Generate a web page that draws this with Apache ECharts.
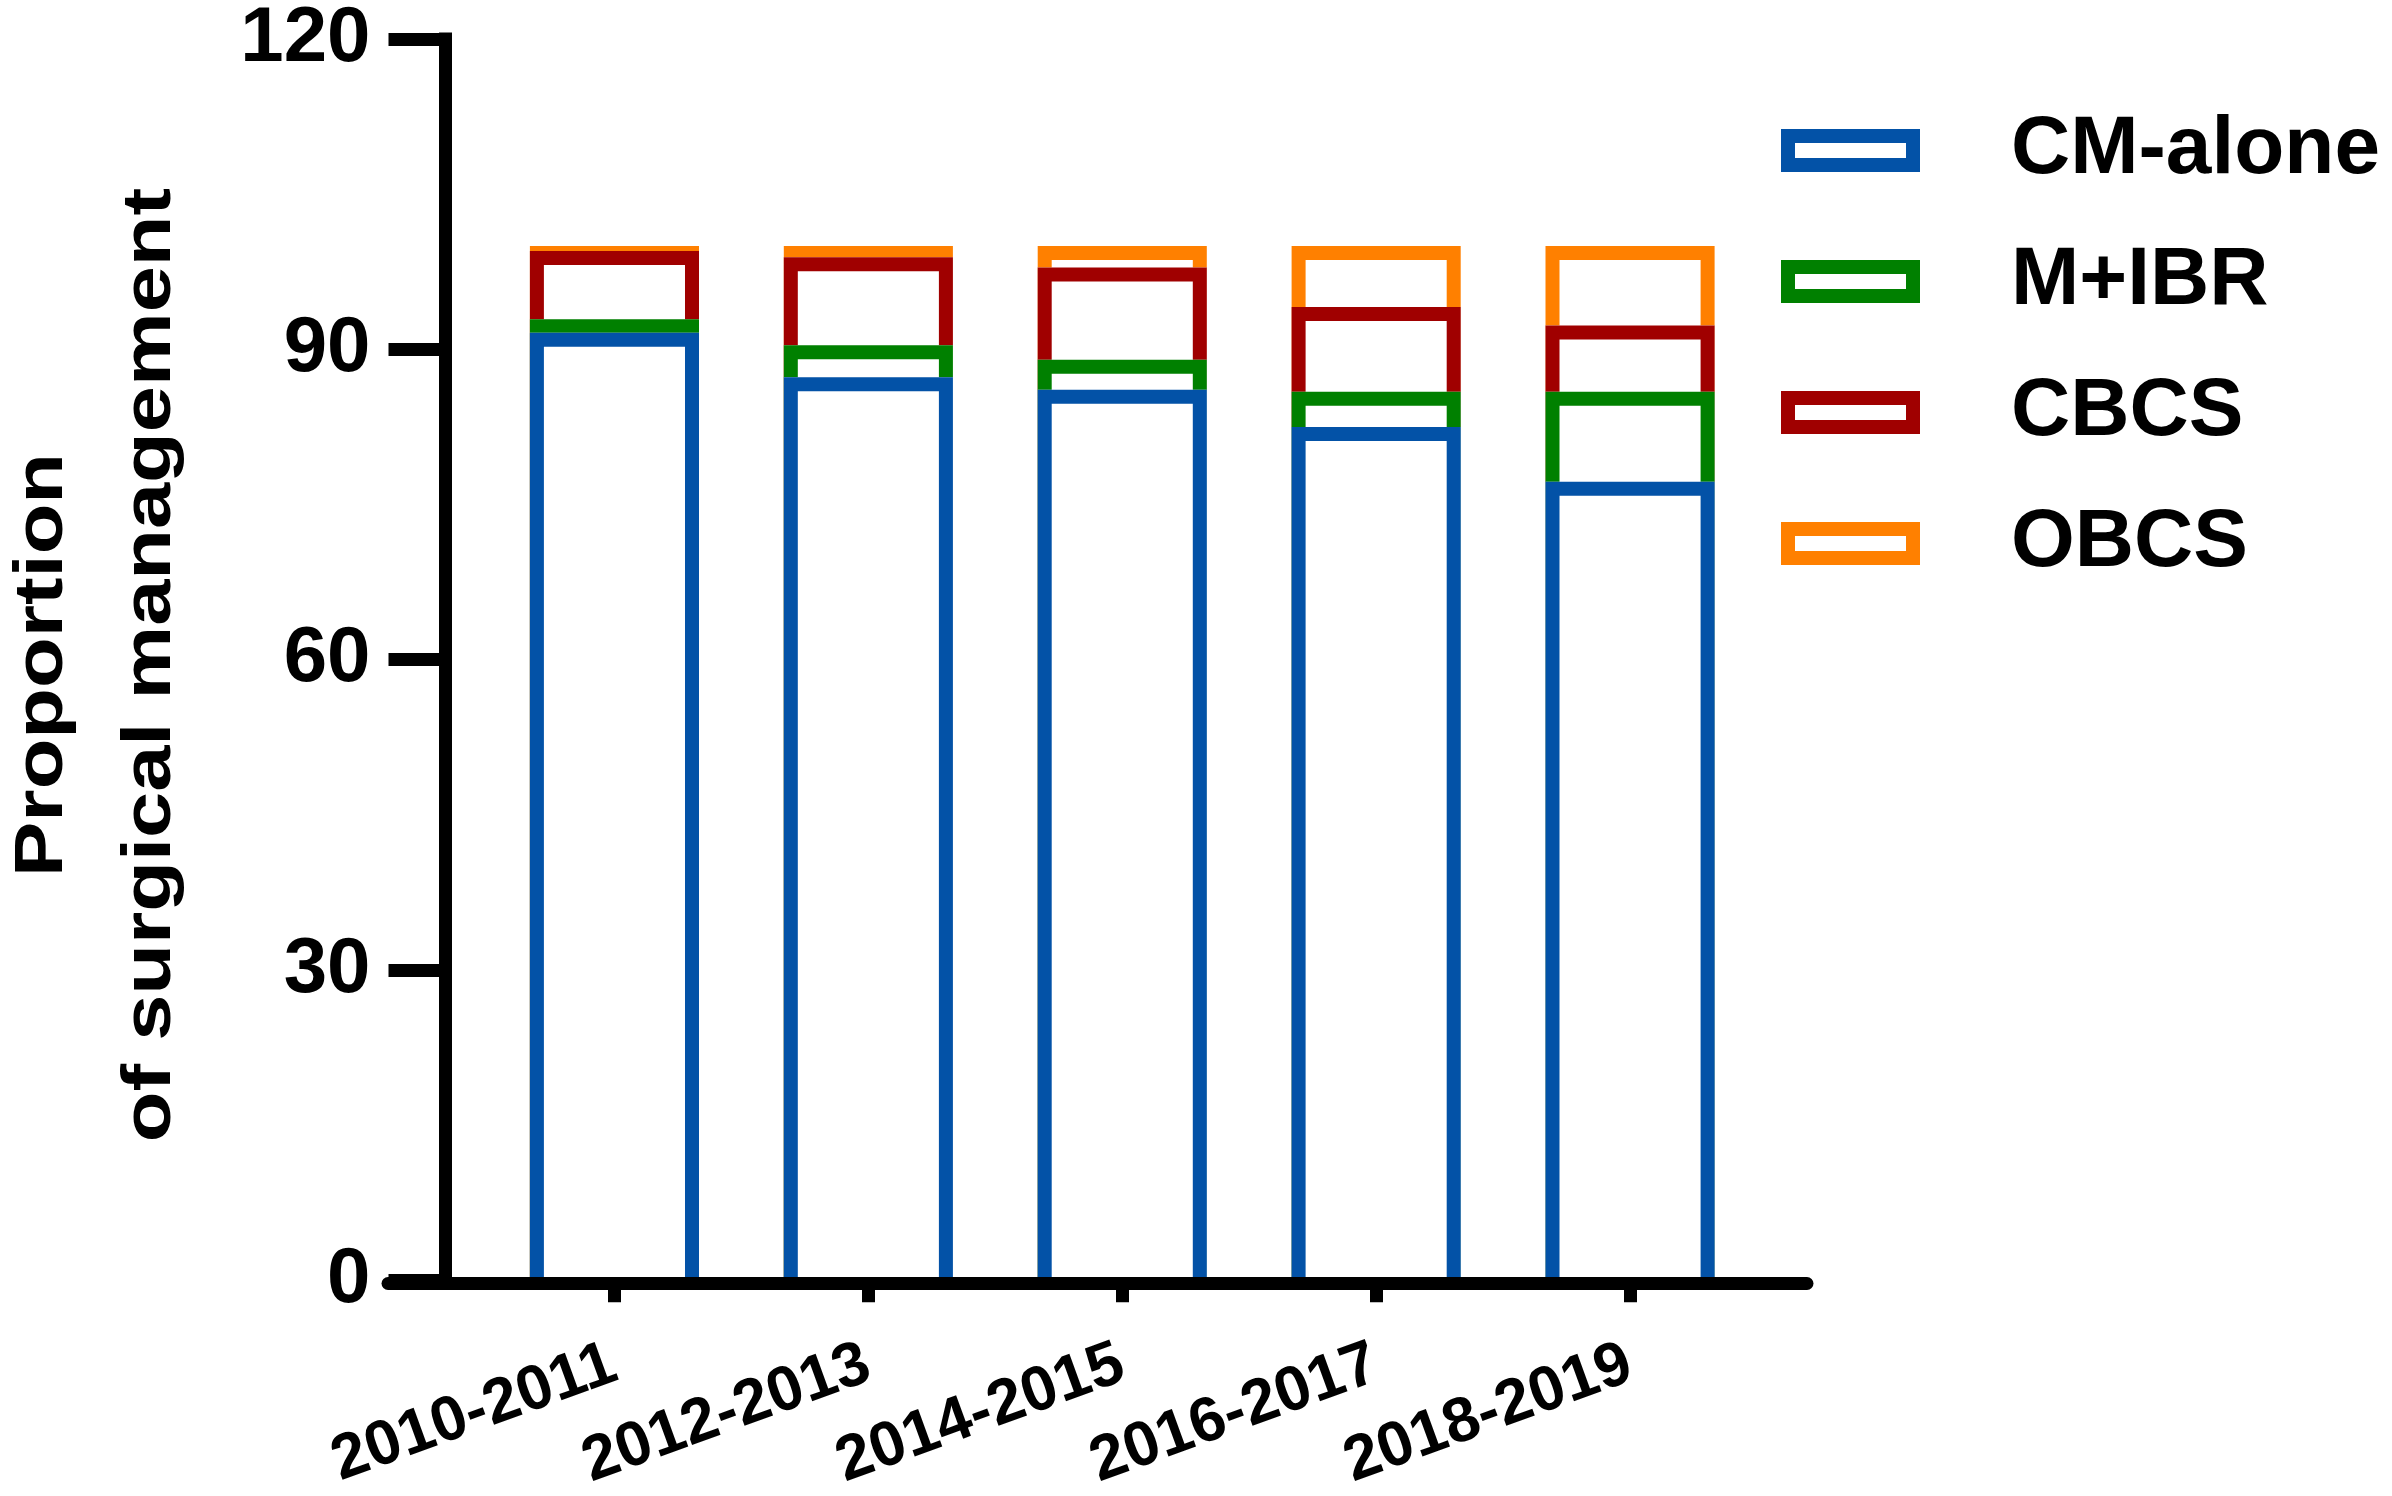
<!DOCTYPE html>
<html>
<head>
<meta charset="utf-8">
<script src="https://cdn.jsdelivr.net/npm/echarts@6/dist/echarts.min.js"></script>
<style>
html,body{margin:0;padding:0;background:#fff;}
#chart{width:2392px;height:1496px;}
</style>
</head>
<body>
<div id="chart"></div>
<script>
// ---- data (segment sizes, percent) ----
const categories = ['2010-2011', '2012-2013', '2014-2015', '2016-2017', '2018-2019'];
const seriesNames = ['CM-alone', 'M+IBR', 'CBCS', 'OBCS'];
const cmAlone = [91.6, 87.3, 86.1, 82.5, 77.2];
const mIbr    = [1.3, 3.1, 2.9, 3.4, 8.7];
const cbcs    = [6.6, 8.5, 8.9, 8.2, 6.4];
const obcs    = [0.5, 1.1, 2.1, 5.9, 7.7];
const yTicks  = [0, 30, 60, 90, 120];

// ---- style ----
const colors = ['#0352A7', '#008000', '#A00000', '#FF8000'];
const FONT = "'Liberation Sans', Arial, Helvetica, sans-serif";
const BORDER = 14;
const BAR_RATIO = 0.666;

const segments = [cmAlone, mIbr, cbcs, obcs];
// cumulative tops for each series
const cumulative = segments.map((_, s) =>
  categories.map((_, i) => {
    let t = 0;
    for (let k = 0; k <= s; k++) t += segments[k][i];
    return +t.toFixed(2);
  })
);

function makeRender(color) {
  return function (params, api) {
    const i = api.value(0), v = api.value(1);
    const top = api.coord([i, v]);
    const base = api.coord([i, 0]);
    const band = api.size([1, 0])[0];
    const w = band * BAR_RATIO;
    const lw = BORDER;
    const x0 = top[0] - w / 2, x1 = top[0] + w / 2;
    return {
      type: 'group',
      children: [
        { type: 'rect', shape: { x: x0, y: top[1], width: w, height: base[1] - top[1] }, style: { fill: '#fff' } },
        { type: 'polyline',
          shape: { points: [[x0 + lw / 2, base[1]], [x0 + lw / 2, top[1] + lw / 2], [x1 - lw / 2, top[1] + lw / 2], [x1 - lw / 2, base[1]]] },
          style: { fill: null, stroke: color, lineWidth: lw, lineJoin: 'miter' } }
      ]
    };
  };
}

// draw largest cumulative first so lower segments sit on top
const seriesList = [];
for (let s = seriesNames.length - 1; s >= 0; s--) {
  seriesList.push({
    name: seriesNames[s],
    type: 'custom',
    xAxisIndex: 0,
    yAxisIndex: 0,
    itemStyle: { color: '#fff', borderColor: colors[s], borderWidth: BORDER },
    renderItem: makeRender(colors[s]),
    encode: { x: 0, y: 1 },
    data: categories.map((c, i) => [i, cumulative[s][i]])
  });
}

const chart = echarts.init(document.getElementById('chart'), null, { renderer: 'canvas' });
chart.setOption({
  backgroundColor: '#fff',
  animation: false,
  textStyle: { fontFamily: FONT },
  grid: [
    { left: 487.5, right: 635, top: 37, bottom: 212 },
    { left: 388, right: 585, top: 37, bottom: 213 }
  ],
  xAxis: [
    {
      type: 'category', gridIndex: 0, data: categories, z: 5,
      axisLine: { show: false },
      axisTick: { show: true, alignWithLabel: true, length: 22, lineStyle: { color: '#000', width: 13 } },
      axisLabel: { rotate: 20, margin: 82, color: '#000', fontSize: 63, fontWeight: 'bold', fontFamily: FONT, interval: 0 },
      splitLine: { show: false }
    },
    {
      type: 'value', gridIndex: 1, min: 0, max: 1, z: 5,
      axisLine: { show: true, lineStyle: { color: '#000', width: 13 } },
      axisTick: { show: false }, axisLabel: { show: false }, splitLine: { show: false }
    }
  ],
  yAxis: [
    {
      type: 'value', gridIndex: 0, min: yTicks[0], max: yTicks[yTicks.length - 1], interval: yTicks[1] - yTicks[0],
      offset: 42, z: 5,
      axisLine: { show: true, lineStyle: { color: '#000', width: 13, cap: 'square' } },
      axisTick: { show: true, length: 57, lineStyle: { color: '#000', width: 13 } },
      axisLabel: { margin: 75, color: '#000', fontSize: 78, fontWeight: 'bold', fontFamily: FONT },
      splitLine: { show: false }
    },
    { type: 'value', gridIndex: 1, show: false, min: 0, max: 1 }
  ],
  legend: {
    orient: 'vertical',
    left: 1781, top: 107,
    padding: 0,
    icon: 'rect',
    itemWidth: 125, itemHeight: 29, itemGap: 44,
    data: seriesNames.map((n, s) => ({ name: n, itemStyle: { color: '#fff', borderColor: colors[s], borderWidth: BORDER } })),
    textStyle: { color: '#000', fontSize: 82, fontWeight: 'bold', fontFamily: FONT, lineHeight: 83, padding: [4, 0, 0, 93] },
    selectedMode: false
  },
  graphic: [
    {
      type: 'text',
      x: 97, y: 665,
      rotation: Math.PI / 2,
      scaleX: 1.22, scaleY: 1,
      style: {
        text: 'Proportion\nof surgical management',
        font: 'bold 68px ' + FONT,
        fill: '#000',
        align: 'center',
        verticalAlign: 'middle',
        lineHeight: 108
      }
    }
  ],
  series: seriesList
});
</script>
</body>
</html>
